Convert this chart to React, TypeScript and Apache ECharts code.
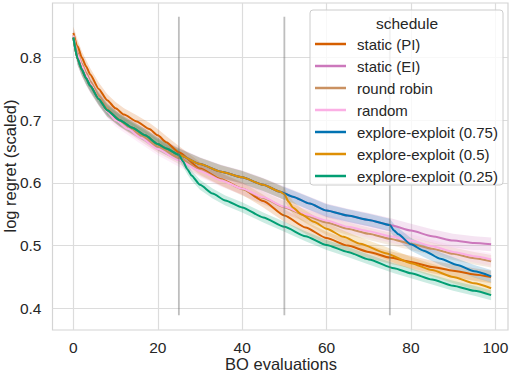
import React, { useEffect, useRef } from "react";
import * as echarts from "echarts";

const seriesNames = [
  "static (PI)",
  "static (EI)",
  "round robin",
  "random",
  "explore-exploit (0.75)",
  "explore-exploit (0.5)",
  "explore-exploit (0.25)",
];
const colors = ["#d55e00", "#cc78bc", "#ca9161", "#fbafe4", "#0173b2", "#de8f05", "#029e73"];

// static (PI)
const piX = [0, 1, 2, 3, 4, 6, 8, 10, 12, 15, 18, 20, 22, 25, 30, 35, 40, 45, 50, 55, 60, 65, 70, 75, 80, 85, 90, 95, 99];
const piY = [0.839, 0.818, 0.8, 0.786, 0.773, 0.75, 0.732, 0.719, 0.709, 0.698, 0.686, 0.676, 0.665, 0.649, 0.623, 0.606, 0.591, 0.571, 0.548, 0.529, 0.512, 0.5, 0.49, 0.481, 0.474, 0.466, 0.46, 0.454, 0.45];

// static (EI) — also the explore phase of the explore-exploit schedules
const eiX = [0, 1, 2, 3, 4, 6, 8, 11, 14, 17, 20, 22, 25, 30, 35, 40, 45, 49, 52, 56, 60, 65, 70, 75, 80, 85, 90, 95, 99];
const eiY = [0.832, 0.798, 0.781, 0.767, 0.755, 0.734, 0.716, 0.7, 0.688, 0.676, 0.662, 0.655, 0.645, 0.63, 0.618, 0.609, 0.597, 0.586, 0.578, 0.567, 0.556, 0.548, 0.541, 0.533, 0.524, 0.515, 0.508, 0.504, 0.502];

// round robin
const rrX = [0, 1, 2, 3, 4, 6, 8, 10, 13, 16, 20, 25, 30, 35, 40, 45, 50, 55, 60, 65, 70, 75, 80, 85, 90, 95, 99];
const rrY = [0.836, 0.808, 0.79, 0.776, 0.762, 0.739, 0.719, 0.705, 0.69, 0.676, 0.658, 0.64, 0.621, 0.605, 0.59, 0.576, 0.561, 0.548, 0.537, 0.527, 0.519, 0.511, 0.503, 0.495, 0.487, 0.48, 0.475];

// random
const rndX = [0, 1, 2, 3, 4, 6, 8, 10, 13, 16, 20, 25, 30, 35, 40, 45, 50, 55, 60, 65, 70, 75, 80, 85, 90, 95, 99];
const rndY = [0.835, 0.805, 0.787, 0.772, 0.758, 0.735, 0.714, 0.7, 0.686, 0.672, 0.654, 0.636, 0.619, 0.604, 0.591, 0.577, 0.562, 0.55, 0.54, 0.53, 0.523, 0.515, 0.508, 0.499, 0.49, 0.483, 0.478];

// explore-exploit exploit phases (after switch)
const ee75Switch = 75;
const ee75X = [76, 77, 80, 83, 87, 91, 95, 99];
const ee75Y = [0.524, 0.518, 0.502, 0.492, 0.479, 0.469, 0.459, 0.451];

const ee50Switch = 49;
const ee50X = [50, 51, 52, 54, 57, 60, 64, 68, 74, 80, 85, 90, 95, 99];
const ee50Y = [0.582, 0.57, 0.561, 0.55, 0.538, 0.527, 0.514, 0.503, 0.488, 0.472, 0.461, 0.45, 0.44, 0.432];

const ee25Switch = 25;
const ee25X = [26, 27, 28, 30, 33, 36, 40, 45, 50, 55, 60, 65, 70, 76, 80, 85, 90, 95, 99];
const ee25Y = [0.634, 0.622, 0.612, 0.597, 0.583, 0.572, 0.561, 0.545, 0.53, 0.515, 0.501, 0.49, 0.478, 0.464, 0.456, 0.446, 0.436, 0.428, 0.421];

// confidence band half widths
const bandHalf = [0.01, 0.011, 0.01, 0.01, 0.01, 0.01, 0.008];

// schedule switch markers
const vlineX = [25, 50, 75];
const vlineRange = [0.389, 0.865];

const xTicks = [0, 20, 40, 60, 80, 100];
const yTicks = [0.4, 0.5, 0.6, 0.7, 0.8];
const xTitle = "BO evaluations";
const yTitle = "log regret (scaled)";
const legendTitle = "schedule";

const FONT = '"Liberation Sans", Arial, sans-serif';
const TEXT = "#262626";

function withExplore(sw: number, tx: number[], ty: number[]): [number[], number[]] {
  const xs: number[] = [];
  const ys: number[] = [];
  eiX.forEach((x, i) => {
    if (x <= sw) {
      xs.push(x);
      ys.push(eiY[i]);
    }
  });
  return [xs.concat(tx), ys.concat(ty)];
}

export default function App() {
  const ref = useRef<HTMLDivElement>(null);
  useEffect(() => {
    if (!ref.current) return;
    const chart = echarts.init(ref.current, undefined, { renderer: "svg" });
    const all: [number[], number[]][] = [
      [piX, piY],
      [eiX, eiY],
      [rrX, rrY],
      [rndX, rndY],
      withExplore(ee75Switch, ee75X, ee75Y),
      withExplore(ee50Switch, ee50X, ee50Y),
      withExplore(ee25Switch, ee25X, ee25Y),
    ];
    const series: any[] = [];
    all.forEach(([xs, ys], k) => {
      const half = bandHalf[k];
      const color = colors[k];
      series.push({
        type: "custom",
        name: "band-" + k,
        silent: true,
        clip: true,
        data: [[xs[0], ys[0]]],
        renderItem: (_p: any, api: any) => {
          const up = xs.map((x, i) => api.coord([x, ys[i] + half]));
          const lo = xs.map((x, i) => api.coord([x, ys[i] - half])).reverse();
          return {
            type: "polygon",
            shape: { points: up.concat(lo), smooth: 0 },
            style: { fill: color, opacity: 0.2 },
          };
        },
      });
      series.push({
        type: "line",
        name: seriesNames[k],
        data: xs.map((x, i) => [x, ys[i]]),
        symbol: "none",
        showSymbol: false,
        smooth: 0.2,
        smoothMonotone: "x",
        lineStyle: { color, width: 2 },
        itemStyle: { color },
        silent: true,
      });
    });
    vlineX.forEach((vx) => {
      series.push({
        type: "line",
        name: "vline-" + vx,
        data: [
          [vx, vlineRange[0]],
          [vx, vlineRange[1]],
        ],
        symbol: "none",
        lineStyle: { color: "rgba(110,110,110,0.45)", width: 1.8 },
        silent: true,
        z: 3,
      });
    });

    chart.setOption({
      animation: false,
      grid: {
        left: 52.5,
        right: 6,
        top: 3,
        bottom: 44,
        show: true,
        containLabel: false,
        outerBoundsMode: "none",
        borderColor: "#d4d4d4",
        borderWidth: 1.2,
        backgroundColor: "#ffffff",
      },
      xAxis: {
        type: "value",
        min: -4.95,
        max: 103,
        axisLine: { show: false },
        axisTick: { show: false, customValues: xTicks },
        axisLabel: { customValues: xTicks, fontFamily: FONT, fontSize: 15.5, color: TEXT, margin: 9 },
        splitLine: { show: true, lineStyle: { color: "#dcdcdc", width: 1.2 } },
      },
      yAxis: {
        type: "value",
        min: 0.3654,
        max: 0.887,
        axisLine: { show: false },
        axisTick: { show: false, customValues: yTicks },
        axisLabel: {
          customValues: yTicks,
          fontFamily: FONT,
          fontSize: 15.5,
          color: TEXT,
          margin: 11,
          formatter: (v: number) => v.toFixed(1),
        },
        splitLine: { show: true, lineStyle: { color: "#dcdcdc", width: 1.2 } },
      },
      legend: {
        data: seriesNames,
        orient: "vertical",
        left: 315,
        top: 36,
        padding: 0,
        icon: "rect",
        itemWidth: 31,
        itemHeight: 2.5,
        itemGap: 6,
        selectedMode: false,
        textStyle: { fontFamily: FONT, fontSize: 15, color: TEXT, lineHeight: 16, padding: [0, 0, 0, 6] },
        z: 20,
      },
      graphic: [
        {
          type: "rect",
          shape: { x: 310, y: 10, width: 193, height: 175, r: 3 },
          style: { fill: "rgba(255,255,255,0.8)", stroke: "#cccccc", lineWidth: 1 },
          z: 10,
          silent: true,
        },
        {
          type: "text",
          x: 407,
          y: 23,
          style: {
            text: legendTitle,
            font: "15.5px " + FONT,
            fill: TEXT,
            textAlign: "center",
            textVerticalAlign: "middle",
          },
          z: 11,
          silent: true,
        },
        {
          type: "text",
          x: 281,
          y: 364,
          style: {
            text: xTitle,
            font: "16.5px " + FONT,
            fill: TEXT,
            textAlign: "center",
            textVerticalAlign: "middle",
          },
          silent: true,
        },
        {
          type: "text",
          x: 9.5,
          y: 166,
          rotation: Math.PI / 2,
          style: {
            text: yTitle,
            font: "16.5px " + FONT,
            fill: TEXT,
            textAlign: "center",
            textVerticalAlign: "middle",
          },
          silent: true,
        },
      ],
      series,
    });
    return () => chart.dispose();
  }, []);
  return (
    <div
      ref={ref}
      style={{ position: "fixed", left: 0, top: 0, width: 514, height: 374, background: "#fff" }}
    />
  );
}
